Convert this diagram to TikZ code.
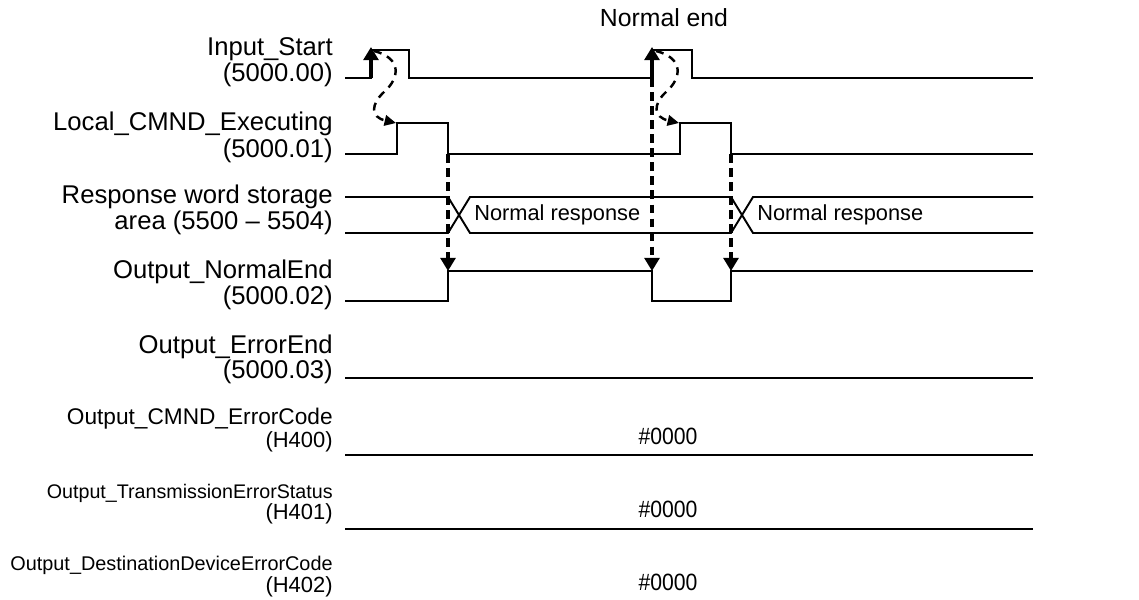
\documentclass[tikz,border=0pt]{standalone}
\usepackage{fontspec}
\setmainfont{Liberation Sans}
\usetikzlibrary{arrows.meta}

\begin{document}
\begin{tikzpicture}[
  x=0.02cm, y=-0.02cm,
  wave/.style={line width=1.1pt, line join=miter},
  cause/.style={-{Triangle[length=7.5pt,width=8.5pt]}, line width=2.3pt},
  causedash/.style={cause, dash pattern=on 5pt off 3pt},
  chain/.style={-{Triangle[length=6.5pt,width=6pt]}, line width=1.4pt,
                dash pattern=on 4.5pt off 3.5pt},
  sigtext/.style={anchor=east, inner sep=0pt, font=\fontsize{14.6}{17}\selectfont},
  codetext/.style={anchor=east, inner sep=0pt, font=\fontsize{#1}{14}\selectfont},
  valtext/.style={inner sep=0pt, font=\fontsize{12.4}{14}\selectfont},
  hextext/.style={inner sep=0pt, xscale=0.9, font=\fontsize{13.4}{15}\selectfont},
]
  \useasboundingbox (0,0) rectangle (1139,599);

  % ---- Signal names ----
  \node[sigtext] (startname) at (333,49) {Input\_Start};
  \node[sigtext] (startaddr) at (333,75) {(5000.00)};
  \node[sigtext] (execname) at (333,124) {Local\_CMND\_Executing};
  \node[sigtext] (execaddr) at (333,151) {(5000.01)};
  \node[sigtext] (respname) at (333,197) {Response word storage};
  \node[sigtext] (respaddr) at (333,223) {area (5500 – 5504)};
  \node[sigtext] (normname) at (333,272) {Output\_NormalEnd};
  \node[sigtext] (normaddr) at (333,298) {(5000.02)};
  \node[sigtext] (errname) at (333,347) {Output\_ErrorEnd};
  \node[sigtext] (erraddr) at (333,372) {(5000.03)};
  \node[codetext=12.9] (cmndname) at (333,419) {Output\_CMND\_ErrorCode};
  \node[codetext=12.5] (cmndaddr) at (333,442) {(H400)};
  \node[codetext=11.2] (transname) at (333,493) {Output\_TransmissionErrorStatus};
  \node[codetext=12.5] (transaddr) at (333,514) {(H401)};
  \node[codetext=11.3] (destname) at (333,565) {Output\_DestinationDeviceErrorCode};
  \node[codetext=12.5] (destaddr) at (333,587) {(H402)};

  % ---- Waveforms ----
  \draw[wave] (345,78) -- (371,78) -- (371,50) -- (409,50) -- (409,78)
    -- (652,78) -- (652,50) -- (692,50) -- (692,78) -- (1033,78);          % Input_Start
  \draw[wave] (345,154) -- (397,154) -- (397,123) -- (448,123) -- (448,154)
    -- (680,154) -- (680,123) -- (731,123) -- (731,154) -- (1033,154);     % executing
  \draw[wave] (345,197) -- (448,197) -- (470,233) -- (731,233) -- (753,197) -- (1033,197);
  \draw[wave] (345,233) -- (448,233) -- (470,197) -- (731,197) -- (753,233) -- (1033,233);
  \draw[wave] (345,301) -- (448,301) -- (448,271) -- (652,271) -- (652,301)
    -- (731,301) -- (731,271) -- (1033,271);                               % NormalEnd
  \draw[wave] (345,378) -- (1033,378);                                     % ErrorEnd
  \draw[wave] (345,455) -- (1033,455);                                     % H400
  \draw[wave] (345,529) -- (1033,529);                                     % H401

  % ---- Values ----
  \node[valtext, anchor=west] (resp1) at (474,215) {Normal response};
  \node[valtext, anchor=west] (resp2) at (757,215) {Normal response};
  \node[valtext, font=\fontsize{14.1}{16}\selectfont] (normalend) at (664,18) {Normal end};
  \node[hextext] (code1) at (668,436) {\#0000};
  \node[hextext] (code2) at (668,509) {\#0000};
  \node[hextext] (code3) at (668,582) {\#0000};

  % ---- Edge points ----
  \coordinate (start1lo) at (371,78);
  \coordinate (start1hi) at (371,47);
  \coordinate (start2lo) at (652,78);
  \coordinate (start2hi) at (652,47);
  \coordinate (exec1up) at (396,123);
  \coordinate (exec2up) at (679,123);
  \coordinate (exec1dn) at (448,154);
  \coordinate (exec2dn) at (731,154);
  \coordinate (norm1) at (448,271);
  \coordinate (norm2) at (652,271);
  \coordinate (norm3) at (731,271);

  % ---- Arrows ----
  \draw[cause] (start1lo) -- (start1hi);
  \draw[cause] (start2lo) -- (start2hi);
  \draw[chain] (374,51) .. controls +(28,7) and +(16,-14) .. ++(10,41)
    .. controls +(-13,12) and +(-26,-6) .. (exec1up);
  \draw[chain] (656,51) .. controls +(28,7) and +(16,-14) .. ++(10,41)
    .. controls +(-13,12) and +(-26,-6) .. (exec2up);
  \draw[causedash] (exec1dn) -- (norm1);
  \draw[causedash] (start2lo) -- (norm2);
  \draw[causedash] (exec2dn) -- (norm3);
\end{tikzpicture}
\end{document}
